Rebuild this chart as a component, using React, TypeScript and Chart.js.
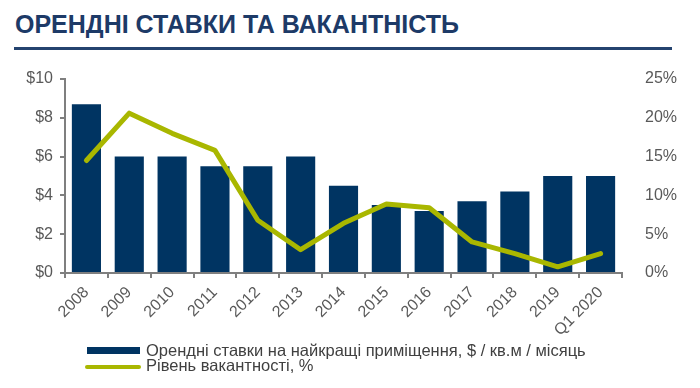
import React, { useEffect, useRef } from "react";
import { Chart, registerables } from "chart.js";

Chart.register(...registerables);

const categories = ["2008", "2009", "2010", "2011", "2012", "2013", "2014", "2015", "2016", "2017", "2018", "2019", "Q1 2020"];
const rentRates = [8.7, 6.0, 6.0, 5.5, 5.5, 6.0, 4.5, 3.5, 3.2, 3.7, 4.2, 5.0, 5.0];
const vacancyRates = [14.5, 20.6, 18.0, 15.8, 6.8, 3.0, 6.4, 8.9, 8.4, 4.0, 2.5, 0.8, 2.5];
const rentTickStep = 2;
const vacancyTickStep = 5;

const titleText = "ОРЕНДНІ СТАВКИ ТА ВАКАНТНІСТЬ";
const rentLabel = "Орендні ставки на найкращі приміщення, $ / кв.м / місяць";
const vacancyLabel = "Рівень вакантності, %";

const NAVY = "#003462";
const GREEN = "#a9b700";
const AXIS = "#7f7f7f";
const TICK = "#595959";
const FONT = "'Liberation Sans', Arial, sans-serif";

export default function App() {
  const ref = useRef<HTMLCanvasElement | null>(null);

  useEffect(() => {
    if (!ref.current) return;
    Chart.defaults.font.family = FONT;
    const chart = new Chart(ref.current, {
      type: "bar",
      data: {
        labels: categories,
        datasets: [
          {
            type: "line",
            label: vacancyLabel,
            data: vacancyRates,
            yAxisID: "y1",
            borderColor: GREEN,
            backgroundColor: GREEN,
            borderWidth: 5,
            pointRadius: 0,
            tension: 0,
            borderJoinStyle: "round",
            borderCapStyle: "round",
            order: 0,
          } as any,
          {
            type: "bar",
            label: rentLabel,
            data: rentRates,
            yAxisID: "y",
            backgroundColor: NAVY,
            categoryPercentage: 1,
            barPercentage: 0.68,
            order: 1,
          } as any,
        ],
      },
      options: {
        responsive: false,
        animation: false,
        layout: { padding: { top: 79, left: 0, right: 0, bottom: 0 } },
        plugins: { legend: { display: false }, tooltip: { enabled: false } },
        scales: {
          x: {
            grid: { drawOnChartArea: false, drawTicks: true, tickLength: 5, color: AXIS, lineWidth: 2, offset: true },
            border: { color: AXIS, width: 2 },
            ticks: { minRotation: 45, maxRotation: 45, autoSkip: false, color: TICK, font: { size: 16 }, padding: 5 },
            afterFit: (s: any) => { s.height = 115; },
          },
          y: {
            position: "left",
            min: 0,
            max: 10,
            ticks: { stepSize: rentTickStep, color: TICK, font: { size: 16 }, padding: 7, callback: (v: any) => "$" + v },
            grid: { drawOnChartArea: false, drawTicks: true, tickLength: 5, color: AXIS, lineWidth: 2 },
            border: { color: AXIS, width: 2 },
            afterFit: (s: any) => { s.width = 65; },
          },
          y1: {
            position: "right",
            min: 0,
            max: 25,
            ticks: { stepSize: vacancyTickStep, color: TICK, font: { size: 16 }, padding: 15, callback: (v: any) => v + "%" },
            grid: { display: false },
            border: { display: false },
            afterFit: (s: any) => { s.width = 78; },
          },
        },
      },
    });
    return () => chart.destroy();
  }, []);

  return (
    <div style={{ position: "fixed", left: 0, top: 0, width: 700, height: 388, background: "#fff", overflow: "hidden", fontFamily: FONT }}>
      <div style={{ position: "absolute", left: 15, top: 9, fontSize: 25, fontWeight: 700, color: "#1d3a67", whiteSpace: "nowrap", lineHeight: "30px" }}>
        {titleText}
      </div>
      <div style={{ position: "absolute", left: 14, top: 47, width: 658, height: 3, background: "#24436f" }} />
      <canvas ref={ref} width={700} height={388} style={{ position: "absolute", left: 0, top: 0, width: 700, height: 388 }} />
      <div style={{ position: "absolute", left: 87, top: 347, width: 53, height: 7, background: NAVY }} />
      <div style={{ position: "absolute", left: 85, top: 365, width: 56, height: 4, borderRadius: 2, background: GREEN }} />
      <div style={{ position: "absolute", left: 146, top: 341, fontSize: 16.5, color: "#404040", whiteSpace: "nowrap", lineHeight: "19px" }}>
        {rentLabel}
      </div>
      <div style={{ position: "absolute", left: 146, top: 356, fontSize: 16.5, color: "#404040", whiteSpace: "nowrap", lineHeight: "19px" }}>
        {vacancyLabel}
      </div>
    </div>
  );
}
